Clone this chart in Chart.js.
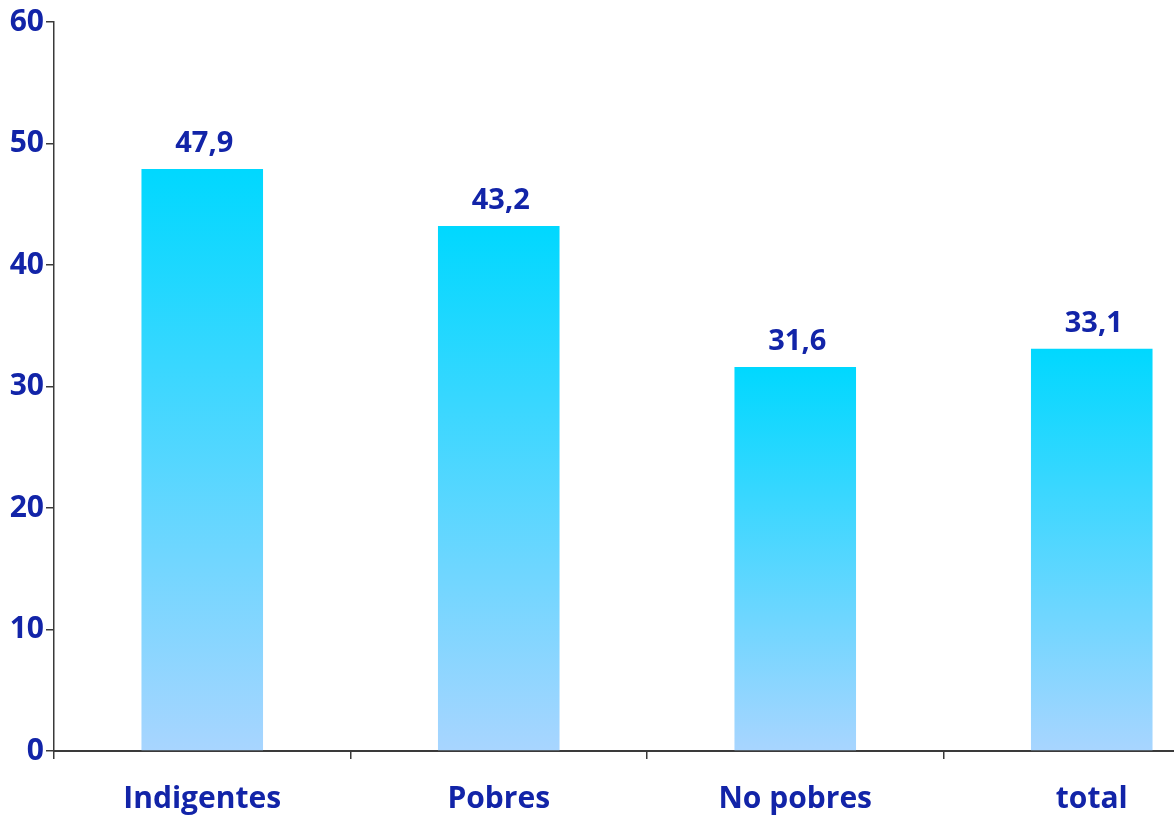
<!DOCTYPE html>
<html>
<head>
<meta charset="utf-8">
<script src="https://cdn.jsdelivr.net/npm/chart.js@4/dist/chart.umd.min.js"></script>
<style>
  html, body { margin: 0; padding: 0; background: #fff; overflow: hidden; }
  #wrap { width: 1240px; height: 815px; }
</style>
</head>
<body>
<div id="wrap"><canvas id="chart" width="1240" height="815"></canvas></div>
<script>
const categories = ['Indigentes', 'Pobres', 'No pobres', 'total'];
const values = [47.9, 43.2, 31.6, 33.1];
const yTicks = [0, 10, 20, 30, 40, 50, 60];

const textColor = '#1224a8';
const axisColor = '#3a3a3a';
const fontFamily = '"Open Sans", "Noto Sans", sans-serif';

function barGradient(context) {
  const chart = context.chart;
  const { ctx, chartArea, scales } = chart;
  if (!chartArea || context.dataIndex === undefined) return '#5cd0ff';
  const v = context.dataset.data[context.dataIndex];
  const top = scales.y.getPixelForValue(v);
  const bottom = scales.y.getPixelForValue(0);
  const g = ctx.createLinearGradient(0, bottom, 0, top);
  g.addColorStop(0, '#a8d5ff');
  g.addColorStop(1, '#00d8ff');
  return g;
}

// value above each bar, decimal comma
const valueLabels = {
  id: 'valueLabels',
  afterDatasetsDraw(chart) {
    const { ctx } = chart;
    const meta = chart.getDatasetMeta(0);
    ctx.save();
    ctx.fillStyle = textColor;
    ctx.font = 'bold 29px ' + fontFamily;
    ctx.textAlign = 'center';
    ctx.textBaseline = 'alphabetic';
    meta.data.forEach((bar, i) => {
      ctx.fillText(values[i].toFixed(1).replace('.', ','), bar.x + 2, bar.y - 17);
    });
    ctx.restore();
  }
};

new Chart(document.getElementById('chart').getContext('2d'), {
  type: 'bar',
  data: {
    labels: categories,
    datasets: [{
      data: values,
      backgroundColor: barGradient,
      borderWidth: 0,
      categoryPercentage: 1,
      barPercentage: 0.41
    }]
  },
  options: {
    responsive: false,
    animation: false,
    layout: { padding: { top: 22, left: 0, right: 0, bottom: 0 } },
    plugins: { legend: { display: false }, tooltip: { enabled: false } },
    scales: {
      x: {
        grid: { drawOnChartArea: false, tickLength: 8, color: axisColor, lineWidth: 1.5 },
        border: { color: axisColor, width: 2 },
        ticks: { color: textColor, padding: 22, font: { family: fontFamily, size: 30, weight: 'bold' } },
        afterFit(scale) { scale.height = 64; }
      },
      y: {
        min: 0,
        max: 60,
        afterBuildTicks(scale) { scale.ticks = yTicks.map(v => ({ value: v })); },
        grid: { drawOnChartArea: false, tickLength: 8, color: axisColor, lineWidth: 1.5 },
        border: { color: axisColor, width: 1.5 },
        ticks: { color: textColor, padding: 2, font: { family: fontFamily, size: 30, weight: 'bold' } },
        afterFit(scale) { scale.width = 54; }
      }
    }
  },
  plugins: [valueLabels]
});
</script>
</body>
</html>
